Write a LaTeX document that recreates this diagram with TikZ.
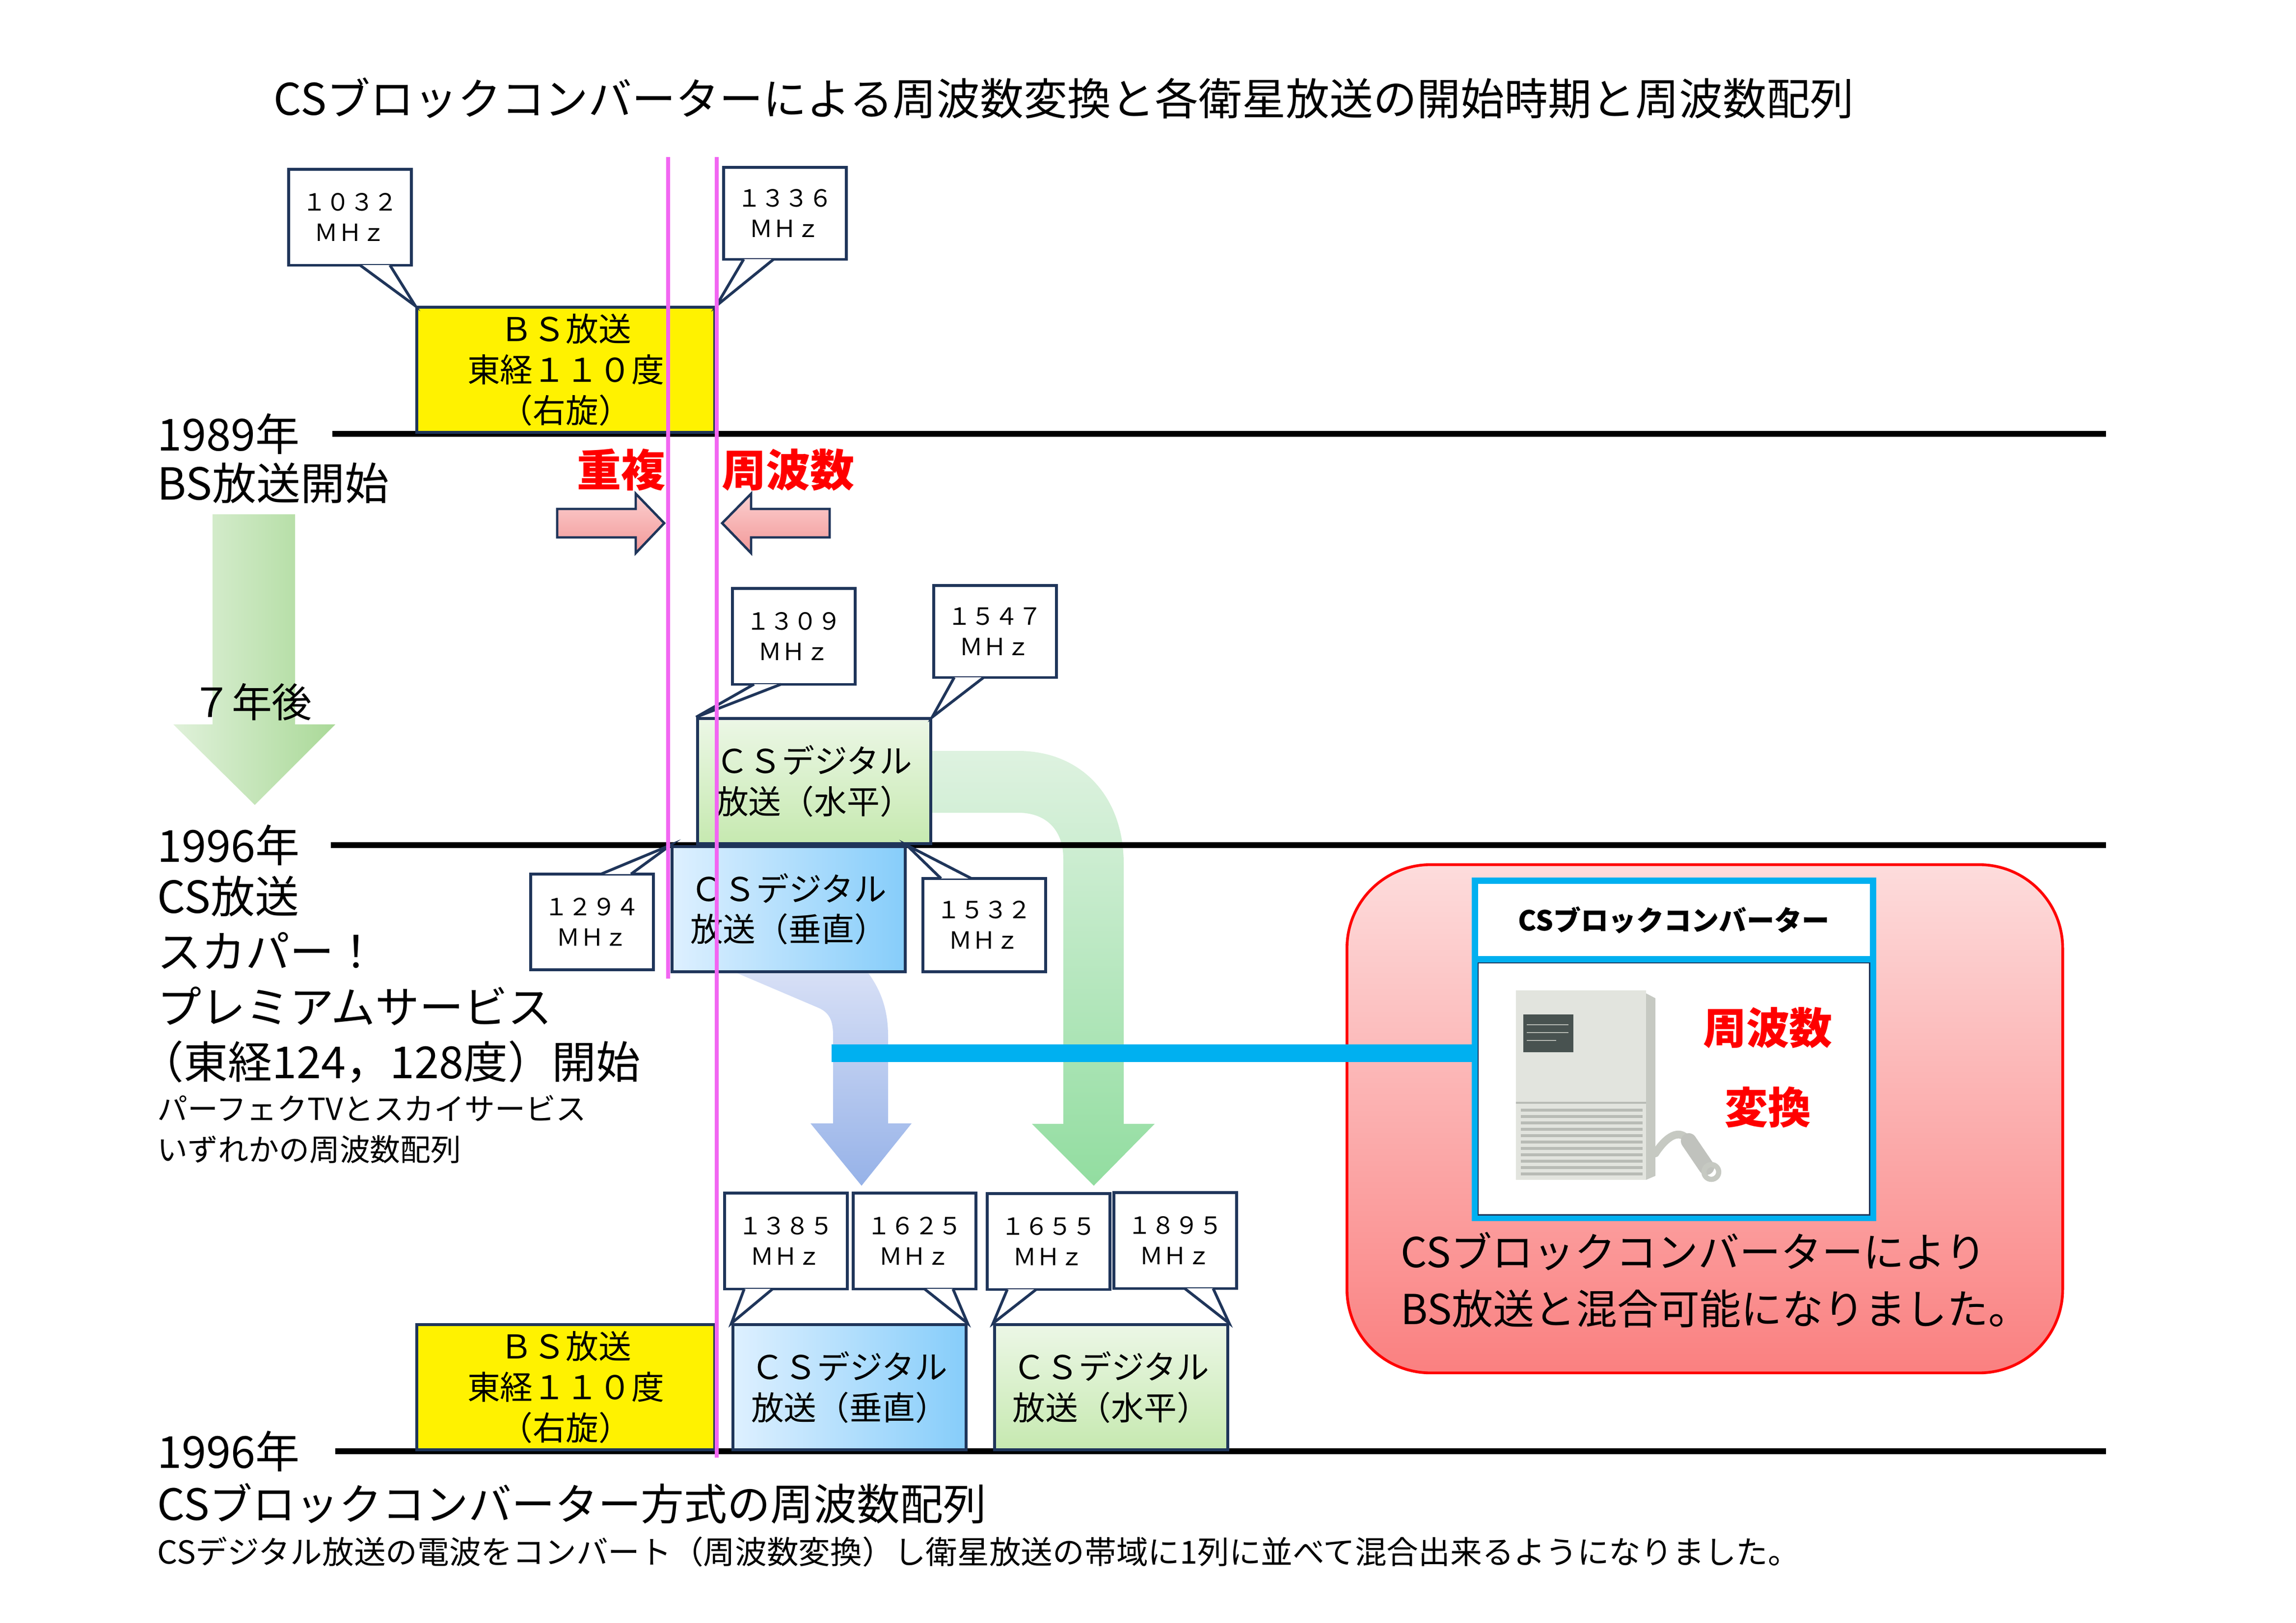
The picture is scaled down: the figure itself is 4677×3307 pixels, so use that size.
\documentclass[tikz,border=0pt]{standalone}
\usepackage{fontspec}
\setmainfont{Noto Sans CJK JP}
\usepackage{tikz}
\usepackage{xcolor}
\usetikzlibrary{calc,positioning,shapes.geometric}

\definecolor{navy}{RGB}{31,53,90}
\definecolor{guidepink}{RGB}{242,102,242}
\definecolor{convcyan}{RGB}{0,176,240}
\definecolor{hbandtop}{RGB}{236,247,230}
\definecolor{hbandbot}{RGB}{198,233,176}
\definecolor{vbandleft}{RGB}{222,240,255}
\definecolor{vbandright}{RGB}{134,205,250}
\definecolor{hflowtop}{RGB}{222,242,224}
\definecolor{hflowbot}{RGB}{146,221,160}
\definecolor{vflowtop}{RGB}{216,224,246}
\definecolor{vflowbot}{RGB}{150,178,232}
\definecolor{laterleft}{RGB}{224,241,218}
\definecolor{laterright}{RGB}{170,217,152}
\definecolor{pinktop}{RGB}{252,208,208}
\definecolor{pinkbot}{RGB}{242,152,152}
\definecolor{paneltop}{RGB}{253,220,220}
\definecolor{panelbot}{RGB}{250,128,128}
\definecolor{devbody}{RGB}{226,228,222}
\definecolor{devside}{RGB}{198,201,194}
\definecolor{devplate}{RGB}{72,82,80}
\definecolor{devgroove}{RGB}{184,187,181}

\tikzset{
  band/.style={
    rectangle,
    draw=navy, line width=1.6pt,
    inner sep=0pt,
    minimum height=2.55cm,
    align=center,
    font=\fontsize{19pt}{23.5pt}\selectfont},
  bsband/.style={band, fill=yellow, minimum width=6.07cm},
  hband/.style={band, top color=hbandtop, bottom color=hbandbot, minimum width=4.75cm},
  vband/.style={band, left color=vbandleft, right color=vbandright, minimum width=4.75cm},
  freqbox/.style={
    rectangle,
    draw=navy, fill=white, line width=1.6pt,
    minimum width=2.5cm,
    minimum height=1.95cm,
    inner sep=0pt,
    align=center,
    font=\fontsize{13.7pt}{17.6pt}\selectfont},
  freqtip/.style={draw=navy, fill=white, line width=1.6pt, line join=miter},
  yearline/.style={draw=black, line width=3.4pt},
  guide/.style={draw=guidepink, line width=2.3pt},
  biglabel/.style={inner sep=0pt, align=left, font=\fontsize{25.6pt}{31.9pt}\selectfont},
  smalllabel/.style={inner sep=0pt, align=left, font=\fontsize{17.6pt}{23.6pt}\selectfont},
}

\begin{document}
\begin{tikzpicture}[x=0.01cm, y=-0.01cm]
  \tikzset{
      redword/.style={inner sep=0pt, text=red, font=\bfseries\fontsize{25.6pt}{30pt}\selectfont},
      pinkarrow/.style={draw=navy, line width=1.4pt, top color=pinktop, bottom color=pinkbot},
      panel/.style={rectangle, rounded corners=1.7cm, draw=red, line width=1.6pt, top color=paneltop, bottom color=panelbot, minimum width=14.57cm, minimum height=10.35cm},
      convframe/.style={rectangle, draw=convcyan, line width=3.7pt, fill=white, minimum width=8.1cm, inner sep=0pt},
  }
  \useasboundingbox (0,0) rectangle (4677,3307);

  \node[inner sep=0pt, font=\fontsize{25.3pt}{30pt}\selectfont] (title) at (2167,200) {CSブロックコンバーターによる周波数変換と各衛星放送の開始時期と周波数配列};

  % flows
  \path[left color=laterleft, right color=laterright] (433,1048) -- (601,1048) -- (601,1476) -- (683,1476) -- (519,1640) -- (353,1476) -- (433,1476) -- cycle;
  \path[top color=hflowtop, bottom color=hflowbot] (1880,1530) -- (2074,1530) .. controls (2200,1530) and (2289,1620) .. (2289,1760) -- (2289,2290) -- (2352,2290) -- (2228,2416) -- (2102,2290) -- (2166,2290) -- (2166,1750) .. controls (2166,1690) and (2130,1656) .. (2074,1656) -- (1880,1656) -- cycle;
  \path[top color=vflowtop, bottom color=vflowbot] (1483,1975) -- (1666,2053) .. controls (1690,2063) and (1697,2080) .. (1697,2110) -- (1697,2289) -- (1651,2289) -- (1755,2416) -- (1857,2289) -- (1809,2289) -- (1809,2110) .. controls (1809,2050) and (1790,2010) .. (1763,1975) -- cycle;

  \coordinate (L1a) at (677,884);
  \coordinate (L1b) at (4290,884);
  \coordinate (L2a) at (674,1722);
  \coordinate (L2b) at (4290,1722);
  \coordinate (L3a) at (683,2957);
  \coordinate (L3b) at (4290,2957);
  \draw[yearline] (L1a) -- (L1b);
  \draw[yearline] (L2a) -- (L2b);
  \draw[yearline] (L3a) -- (L3b);

  \node[bsband, anchor=south west] (bs1) at (846,884) {ＢＳ放送\\東経１１０度\\（右旋）};
  \node[hband, anchor=south west] (csh1) at (1418,1722) {ＣＳデジタル\\放送（水平）};
  \node[vband, anchor=north west] (csv1) at (1366,1722) {ＣＳデジタル\\放送（垂直）};
  \node[bsband, anchor=south west] (bs2) at (846,2957) {ＢＳ放送\\東経１１０度\\（右旋）};
  \node[vband, right=0.31cm of bs2.south east, anchor=south west] (csv2) {ＣＳデジタル\\放送（垂直）};
  \node[hband, right=0.52cm of csv2.south east, anchor=south west] (csh2) {ＣＳデジタル\\放送（水平）};

  \node[freqbox, above left=0.8cm and 0.05cm of bs1.north west] (f1032) {１０３２\\ＭＨｚ};
  \node[freqbox, above right=0.92cm and 0.12cm of bs1.north east, minimum height=1.87cm] (f1336) {１３３６\\ＭＨｚ};
  \node[freqbox, above right=0.64cm and 0.71cm of csh1.north west] (f1309) {１３０９\\ＭＨｚ};
  \node[freqbox, above right=0.78cm and 0cm of csh1.north east, minimum height=1.87cm] (f1547) {１５４７\\ＭＨｚ};
  \node[freqbox, below left=0.56cm and 0.32cm of csv1.north west] (f1294) {１２９４\\ＭＨｚ};
  \node[freqbox, below right=0.65cm and 0.3cm of csv1.north east, minimum height=1.9cm] (f1532) {１５３２\\ＭＨｚ};
  \node[freqbox, above right=0.67cm and -0.17cm of csv2.north west] (f1385) {１３８５\\ＭＨｚ};
  \node[freqbox, above left=0.67cm and -0.2cm of csv2.north east] (f1625) {１６２５\\ＭＨｚ};
  \node[freqbox, above right=0.66cm and -0.15cm of csh2.north west] (f1655) {１６５５\\ＭＨｚ};
  \node[freqbox, above left=0.68cm and -0.18cm of csh2.north east] (f1895) {１８９５\\ＭＨｚ};

  \draw[freqtip] ($(f1032.south west)+(148,-3)$) -- (bs1.north west) -- ($(f1032.south west)+(209,-3)$);
  \draw[freqtip] ($(f1336.south west)+(44,-3)$) -- (bs1.north east) -- ($(f1336.south west)+(105,-3)$);
  \draw[freqtip] ($(f1309.south west)+(47,-3)$) -- (csh1.north west) -- ($(f1309.south west)+(102,-3)$);
  \draw[freqtip] ($(f1547.south west)+(45,-3)$) -- (csh1.north east) -- ($(f1547.south west)+(105,-3)$);
  \draw[freqtip] ($(f1294.north west)+(146,3)$) -- (csv1.north west) -- ($(f1294.north west)+(207,3)$);
  \draw[freqtip] ($(f1532.north west)+(40,3)$) -- (csv1.north east) -- ($(f1532.north west)+(102,3)$);
  \draw[freqtip] ($(f1385.south west)+(43,-3)$) -- (csv2.north west) -- ($(f1385.south west)+(101,-3)$);
  \draw[freqtip] ($(f1625.south west)+(148,-3)$) -- (csv2.north east) -- ($(f1625.south west)+(206,-3)$);
  \draw[freqtip] ($(f1655.south west)+(44,-3)$) -- (csh2.north west) -- ($(f1655.south west)+(103,-3)$);
  \draw[freqtip] ($(f1895.south west)+(147,-3)$) -- (csh2.north east) -- ($(f1895.south west)+(205,-3)$);

  \coordinate (gA1) at (1361,320);
  \coordinate (gA2) at (1361,1994);
  \coordinate (gB1) at (1460,320);
  \coordinate (gB2) at (1460,2970);
  \draw[guide] (gA1) -- (gA2);
  \draw[guide] (gB1) -- (gB2);

  \node[redword, anchor=east] (overlap) at (1356,957) {重複};
  \node[redword, anchor=west] (freqword) at (1470,957) {周波数};
  \path[pinkarrow] (1135,1037) -- (1295,1037) -- (1295,1006) -- (1353,1066) -- (1295,1127) -- (1295,1095) -- (1135,1095) -- cycle;
  \path[pinkarrow] (1690,1037) -- (1530,1037) -- (1530,1006) -- (1471,1066) -- (1530,1127) -- (1530,1095) -- (1690,1095) -- cycle;

  \node[biglabel, anchor=west] (yr1989) at (320,884) {1989年};
  \node[biglabel, below=0.16cm of yr1989.south west, anchor=north west] (bsstart) {BS放送開始};
  \node[inner sep=0pt, font=\fontsize{23.3pt}{28pt}\selectfont] (later) at (513,1430) {７年後};
  \node[biglabel, anchor=west] (yr1996) at (320,1722) {1996年};
  \node[biglabel, below=0.2cm of yr1996.south west, anchor=north west] (csstart) {CS放送\\スカパー！\\プレミアムサービス\\\hspace*{-0.4em}（東経124，128度）開始};
  \node[smalllabel, below=0.23cm of csstart.south west, anchor=north west] (csnote) {パーフェクTVとスカイサービス\\いずれかの周波数配列};
  \node[biglabel, anchor=west] (yr1996b) at (320,2957) {1996年};
  \node[biglabel, font=\fontsize{25pt}{30pt}\selectfont, below=0.22cm of yr1996b.south west, anchor=north west] (convplan) {CSブロックコンバーター方式の周波数配列};
  \node[inner sep=0pt, font=\fontsize{18.4pt}{22pt}\selectfont, below=0.25cm of convplan.south west, anchor=north west] (convnote) {CSデジタル放送の電波をコンバート（周波数変換）し衛星放送の帯域に1列に並べて混合出来るようになりました。};

  % converter
  \node[panel, anchor=north west] (panel) at (2741,1759) {};
  \coordinate (convTap) at (1694,2146);
  \node[convframe, minimum height=5.26cm, anchor=north west] (photo) at (2998,1949) {};
  \draw[convcyan, line width=10pt] (convTap) -- (convTap -| photo.west);
  \draw[navy, line width=0.8pt] ($(photo.north west)+(13,13)$) rectangle ($(photo.south east)+(-13,-13)$);
  \node[convframe, minimum height=1.6cm, above=-0.12cm of photo, font=\bfseries\fontsize{16pt}{20pt}\selectfont] (convtitle) {CSブロックコンバーター};

  \fill[devbody] (3088,2018) rectangle (3353,2404);
  \fill[devside] (3353,2024) -- (3372,2034) -- (3372,2396) -- (3353,2404) -- cycle;
  \fill[devplate] (3103,2067) rectangle (3205,2144);
  \draw[devgroove, line width=0.6pt] (3110,2088) -- (3195,2088) (3110,2104) -- (3195,2104) (3110,2120) -- (3170,2120);
  \draw[devgroove, line width=1.2pt] (3088,2247) -- (3353,2247);
  \foreach \gy in {2262,2275,...,2392} {\draw[devgroove, line width=1.5pt] (3098,\gy) -- (3346,\gy);}
  \draw[devside, line width=4.5pt, line cap=round] (3372,2350) .. controls (3395,2315) and (3420,2300) .. (3438,2322);
  \draw[devbody!85!black, line width=0.32cm, line cap=round] (3440,2325) -- (3476,2378);
  \draw[devside, line width=3pt] (3486,2388) circle (15);

  \node[redword, font=\bfseries\fontsize{25pt}{46pt}\selectfont, align=center] (convword) at (3601,2175) {周波数\\変換};
  \node[inner sep=0pt, align=left, font=\fontsize{23.9pt}{33pt}\selectfont, anchor=north west] (convresult) at (2853,2510) {CSブロックコンバーターにより\\BS放送と混合可能になりました。};

\end{tikzpicture}
\end{document}
